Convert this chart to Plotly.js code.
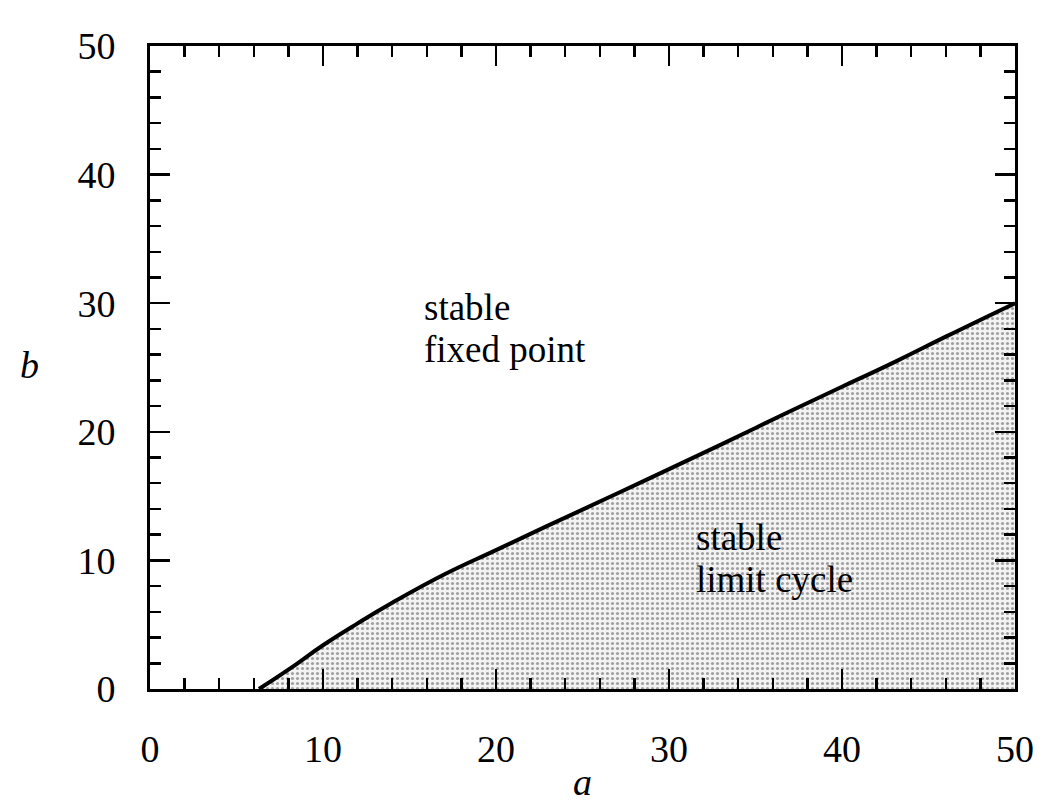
<!DOCTYPE html>
<html>
<head>
<meta charset="utf-8">
<script src="https://cdn.plot.ly/plotly-3.0.1.min.js"></script>
<style>html,body{margin:0;padding:0;background:#fff;}#chart{width:1048px;height:809px;}</style>
</head>
<body>
<div id="chart"></div>
<script>
// Hopf bifurcation boundary in the (a, b) parameter plane
const boundaryA = [6.3, 8, 10, 12, 14, 17, 20, 23, 27, 30, 33, 37, 40, 43, 46, 50];
const boundaryB = [0, 1.5, 3.4, 5.1, 6.7, 8.9, 10.8, 12.7, 15.2, 17.1, 19.0, 21.6, 23.5, 25.4, 27.4, 30];
const xTickVals = [0, 10, 20, 30, 40, 50];
const yTickVals = [0, 10, 20, 30, 40, 50];
const xAxisLabel = "a";
const yAxisLabel = "b";
const regionLabels = ["stable", "fixed point", "stable", "limit cycle"];

const serif = "Liberation Serif, Times New Roman, serif";
const black = "#000";

const traces = [{
  x: boundaryA, y: boundaryB,
  type: "scatter", mode: "lines",
  line: {color: black, width: 4, shape: "spline", smoothing: 1.3},
  fill: "tozeroy",
  fillcolor: "#ececec",
  fillpattern: {shape: ".", fgcolor: "#a0a0a0", bgcolor: "#f3f3f3", size: 5, solidity: 0.3},
  hoverinfo: "skip", showlegend: false
}];

const axisCommon = {
  range: [0, 50], showgrid: false, zeroline: false,
  showline: true, linecolor: black, linewidth: 3, mirror: "ticks",
  ticks: "inside", ticklen: 20, tickwidth: 2.5, tickcolor: black,
  tickfont: {family: serif, size: 38, color: black},
  minor: {dtick: 2, ticks: "inside", ticklen: 11, tickwidth: 2.5, tickcolor: black, showgrid: false},
  fixedrange: true
};

const textFont = {family: serif, size: 37, color: black};

const layout = {
  width: 1048, height: 809,
  margin: {l: 150, r: 33, t: 46, b: 120, pad: 0},
  paper_bgcolor: "#fff", plot_bgcolor: "#fff",
  showlegend: false,
  xaxis: Object.assign({}, axisCommon, {
    tickvals: xTickVals, ticktext: xTickVals.map(String),
    ticklabelstandoff: 24,
    title: {text: xAxisLabel, font: {family: serif, size: 38, color: black, style: "italic"}, standoff: 0}
  }),
  yaxis: Object.assign({}, axisCommon, {
    tickvals: yTickVals, ticktext: yTickVals.map(String),
    ticklabelstandoff: 24
  }),
  annotations: [
    {x: 15.8, y: 29.7, text: regionLabels[0]},
    {x: 15.8, y: 26.4, text: regionLabels[1]},
    {x: 31.5, y: 11.8, text: regionLabels[2]},
    {x: 31.5, y: 8.5, text: regionLabels[3]}
  ].map(a => Object.assign(a, {
    xref: "x", yref: "y", xanchor: "left", yanchor: "middle", showarrow: false,
    borderpad: 0, font: textFont
  })).concat([{
    // horizontal (unrotated) y-axis label, as in the reference
    xref: "paper", yref: "paper", x: -0.139, y: 0.504,
    xanchor: "center", yanchor: "middle", showarrow: false,
    text: yAxisLabel, font: {family: serif, size: 38, color: black, style: "italic"}
  }])
};

Plotly.newPlot("chart", traces, layout, {staticPlot: true, displayModeBar: false});
</script>
</body>
</html>
